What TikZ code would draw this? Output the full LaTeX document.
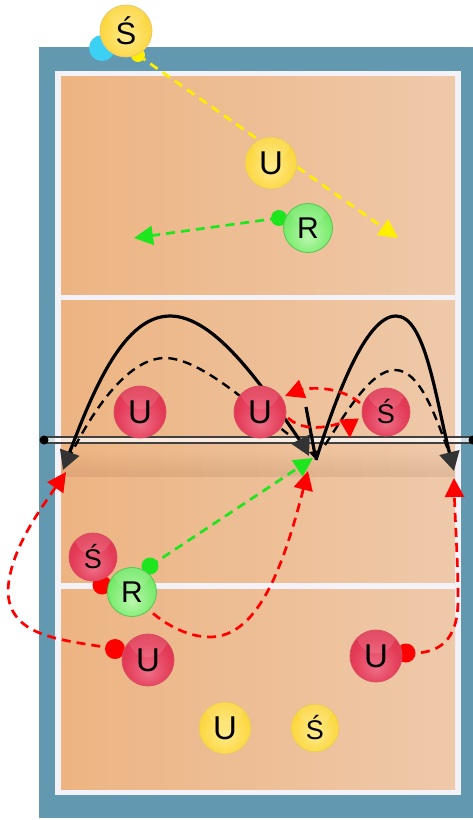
\documentclass[tikz,border=0pt]{standalone}
\usepackage{fontspec}
\setmainfont{Liberation Sans}
\usetikzlibrary{arrows.meta}
\definecolor{courtblue}{HTML}{6299B0}
\definecolor{lineW}{HTML}{F3F2F8}
\definecolor{floorL}{HTML}{EDB482}
\definecolor{floorR}{HTML}{EEC9AA}
\definecolor{arrowdark}{HTML}{333333}
\definecolor{redB}{HTML}{FF0000}
\definecolor{greenB}{HTML}{1EE61E}
\definecolor{yellowB}{HTML}{FFEE00}
\definecolor{cyanB}{HTML}{3DD0F5}
\definecolor{ra}{HTML}{EE6E86}
\definecolor{rb}{HTML}{E43C58}
\definecolor{rc}{HTML}{CF1F3A}
\definecolor{ga}{HTML}{BBF7AE}
\definecolor{gb}{HTML}{78EB6C}
\definecolor{gc}{HTML}{4ED24C}
\definecolor{ya}{HTML}{FFEB8C}
\definecolor{yb}{HTML}{FCD740}
\definecolor{yc}{HTML}{F0BE18}
\pgfdeclareradialshading{redball}{\pgfpoint{0bp}{-12bp}}{color(0bp)=(ra); color(22bp)=(rb); color(50bp)=(rc)}
\pgfdeclareradialshading{greenball}{\pgfpoint{0bp}{-10bp}}{color(0bp)=(ga); color(24bp)=(gb); color(50bp)=(gc)}
\pgfdeclareradialshading{yellowball}{\pgfpoint{0bp}{-6bp}}{color(0bp)=(ya); color(24bp)=(yb); color(50bp)=(yc)}
\pgfdeclarelayer{court}
\pgfdeclarelayer{lines}
\pgfsetlayers{court,lines,main}
\tikzset{
  ballbase/.style={circle,inner sep=0pt,minimum size=#1,text=black,line width=0.8pt,
    path picture={\fill[white,opacity=.12] (path picture bounding box.north) ellipse [x radius=.8*#1/2,y radius=.9*#1/2];}},
  redp/.style={ballbase=#1,shading=redball,draw=rc!80!white},
  greenp/.style={ballbase=#1,shading=greenball,draw=gc!85!gray},
  yellowp/.style={ballbase=#1,shading=yellowball,draw=yc!80!gray!70!white},
  dotp/.style={circle,inner sep=0pt,minimum size=#1},
  dashl/.style={line width=2.7pt,dash pattern=on 9pt off 6pt},
  headc/.style={-{Triangle[length=19pt,width=19pt,fill=#1,color=#1]}},
  darkhead/.tip={Triangle[length=19pt,width=20pt,fill=arrowdark,color=arrowdark]},
  solidarc/.style={line width=3.2pt,black},
  blackdash/.style={line width=2.4pt,black,dash pattern=on 9pt off 6pt},
  netline/.style={line width=1.5pt,black!75},
}
\begin{document}
\begin{tikzpicture}[x=1pt,y=-1pt]
\useasboundingbox (0,0) rectangle (473,820);
% dots
\node[dotp=26pt,fill=cyanB] (cy) at (102,48) {};
\node[dotp=14pt,fill=yellowB] (yd) at (138,55) {};
\node[dotp=16pt,fill=greenB] (gd1) at (279,218) {};
\node[dotp=17pt,fill=greenB] (gd2) at (150,566) {};
\node[dotp=19pt,fill=redB] (rd1) at (102,585) {};
\node[dotp=20pt,fill=redB] (rd2) at (115,649) {};
\node[dotp=19pt,fill=redB] (rd3) at (406,653) {};
% players
\node[yellowp=52pt,font=\fontsize{31}{31}\selectfont] (p1) at (126,31) {Ś};
\node[yellowp=52pt,font=\fontsize{33}{33}\selectfont] (p2) at (271,163) {U};
\node[greenp=49pt,font=\fontsize{30}{30}\selectfont] (p3) at (308,228) {R};
\node[redp=52pt,font=\fontsize{33}{33}\selectfont] (p4) at (140,412) {U};
\node[redp=52pt,font=\fontsize{33}{33}\selectfont] (p5) at (260,412) {U};
\node[redp=48pt,font=\fontsize{27}{27}\selectfont] (p6) at (386,412) {Ś};
\node[redp=48pt,font=\fontsize{27}{27}\selectfont] (p7) at (93,557) {Ś};
\node[greenp=49pt,font=\fontsize{30}{30}\selectfont] (p8) at (132,592) {R};
\node[redp=52pt,font=\fontsize{33}{33}\selectfont] (p9) at (148,660) {U};
\node[redp=52pt,font=\fontsize{33}{33}\selectfont] (p10) at (376,656) {U};
\node[yellowp=52pt,font=\fontsize{33}{33}\selectfont] (p11) at (225,728) {U};
\node[yellowp=48pt,font=\fontsize{27}{27}\selectfont] (p12) at (315,728) {Ś};
% named ends
\coordinate (ty) at (398,238);
\coordinate (tg1) at (134,238);
\coordinate (tg2) at (313,458);
\coordinate (tr1) at (66,472);
\coordinate (tr2) at (308,471);
\coordinate (tr3) at (454,478);
\coordinate (tA) at (63,470);
\coordinate (tB) at (309,456);
\coordinate (tC) at (454,471);
\coordinate (tV) at (316,460);
\coordinate (vtop) at (306,407);
\coordinate (peakL) at (170,316);
\coordinate (peakR) at (396,316);
\coordinate (dpeakL) at (165,358);
\coordinate (dpeakR) at (395,370);
\coordinate (dstartL) at (288,434);
\coordinate (dstartR) at (325,445);
\coordinate (dendL) at (68,460);
\coordinate (dendR) at (450,455);
\coordinate (rs1) at (360,403);
\coordinate (rt1) at (285,396);
\coordinate (rs2) at (288,418);
\coordinate (rt2) at (350,438);
\begin{pgfonlayer}{court}
  \fill[courtblue] (39,47) rectangle (473,818);
  \fill[lineW] (55,70.5) rectangle (461,795);
  \shade[left color=floorL,right color=floorR] (61,76.7) rectangle (455,789);
  \fill[lineW] (61,295) rectangle (455,300);
  \fill[lineW] (61,583) rectangle (455,589);
\end{pgfonlayer}
\begin{pgfonlayer}{lines}
  % net shadow
  \foreach \yy in {453,456,459,462,465,468,471}
    \fill[black,opacity=.006] (61,\yy) rectangle (455,477);
  % net
  \fill[white,opacity=.7] (44,438) rectangle (473,443);
  \draw[netline] (44,437) -- (473,437);
  \draw[netline] (44,443) -- (473,443);
  \fill[black] (44,440) circle (4.5);
  \fill[black] (473,440) circle (4.5);
  % yellow
  \draw[yellowB,dashl,headc=yellowB] (yd.center) -- (ty);
  % green
  \draw[greenB,dashl,headc=greenB] (gd1.center) -- (tg1);
  \draw[greenB,dashl,headc=greenB] (gd2.center) -- (tg2);
  % black dashed
  \draw[blackdash] (dendL) .. controls (95,405) and (130,358) .. (dpeakL)
     .. controls (200,358) and (250,405) .. (dstartL);
  \draw[blackdash] (dstartR) .. controls (345,415) and (370,370) .. (dpeakR)
     .. controls (420,370) and (435,415) .. (dendR);
  % black solid
  \draw[solidarc,darkhead-darkhead]
     (tB) -- ++(-4,-8) .. controls (262,385) and (215,316) .. (peakL)
     .. controls (125,316) and (95,385) .. (tA);
  \draw[solidarc,-darkhead] (tV) .. controls (335,400) and (365,316) .. (peakR)
     .. controls (425,316) and (435,395) .. (tC);
  \draw[solidarc,-{Triangle[length=9pt,width=10pt]}] (vtop) -- (tV);
  % red
  \draw[redB,dashl,headc=redB] (rd2.center) .. controls (70,640) and (8,640) .. (8,590)
     .. controls (10,550) and (40,510) .. (tr1);
  \draw[redB,dashl,headc=redB] (p8.center) .. controls (150,615) and (180,637) .. (210,637)
     .. controls (260,637) and (285,560) .. (tr2);
  \draw[redB,dashl,headc=redB] (rd3.center) .. controls (440,655) and (458,640) .. (458,600)
     .. controls (458,560) and (455,520) .. (tr3);
  \draw[redB,dashl,headc=redB] (rs1) .. controls (335,382) and (300,390) .. (rt1);
  \draw[redB,dashl,headc=redB] (rs2) .. controls (310,438) and (349,420) .. (rt2);
\end{pgfonlayer}
\end{tikzpicture}
\end{document}
